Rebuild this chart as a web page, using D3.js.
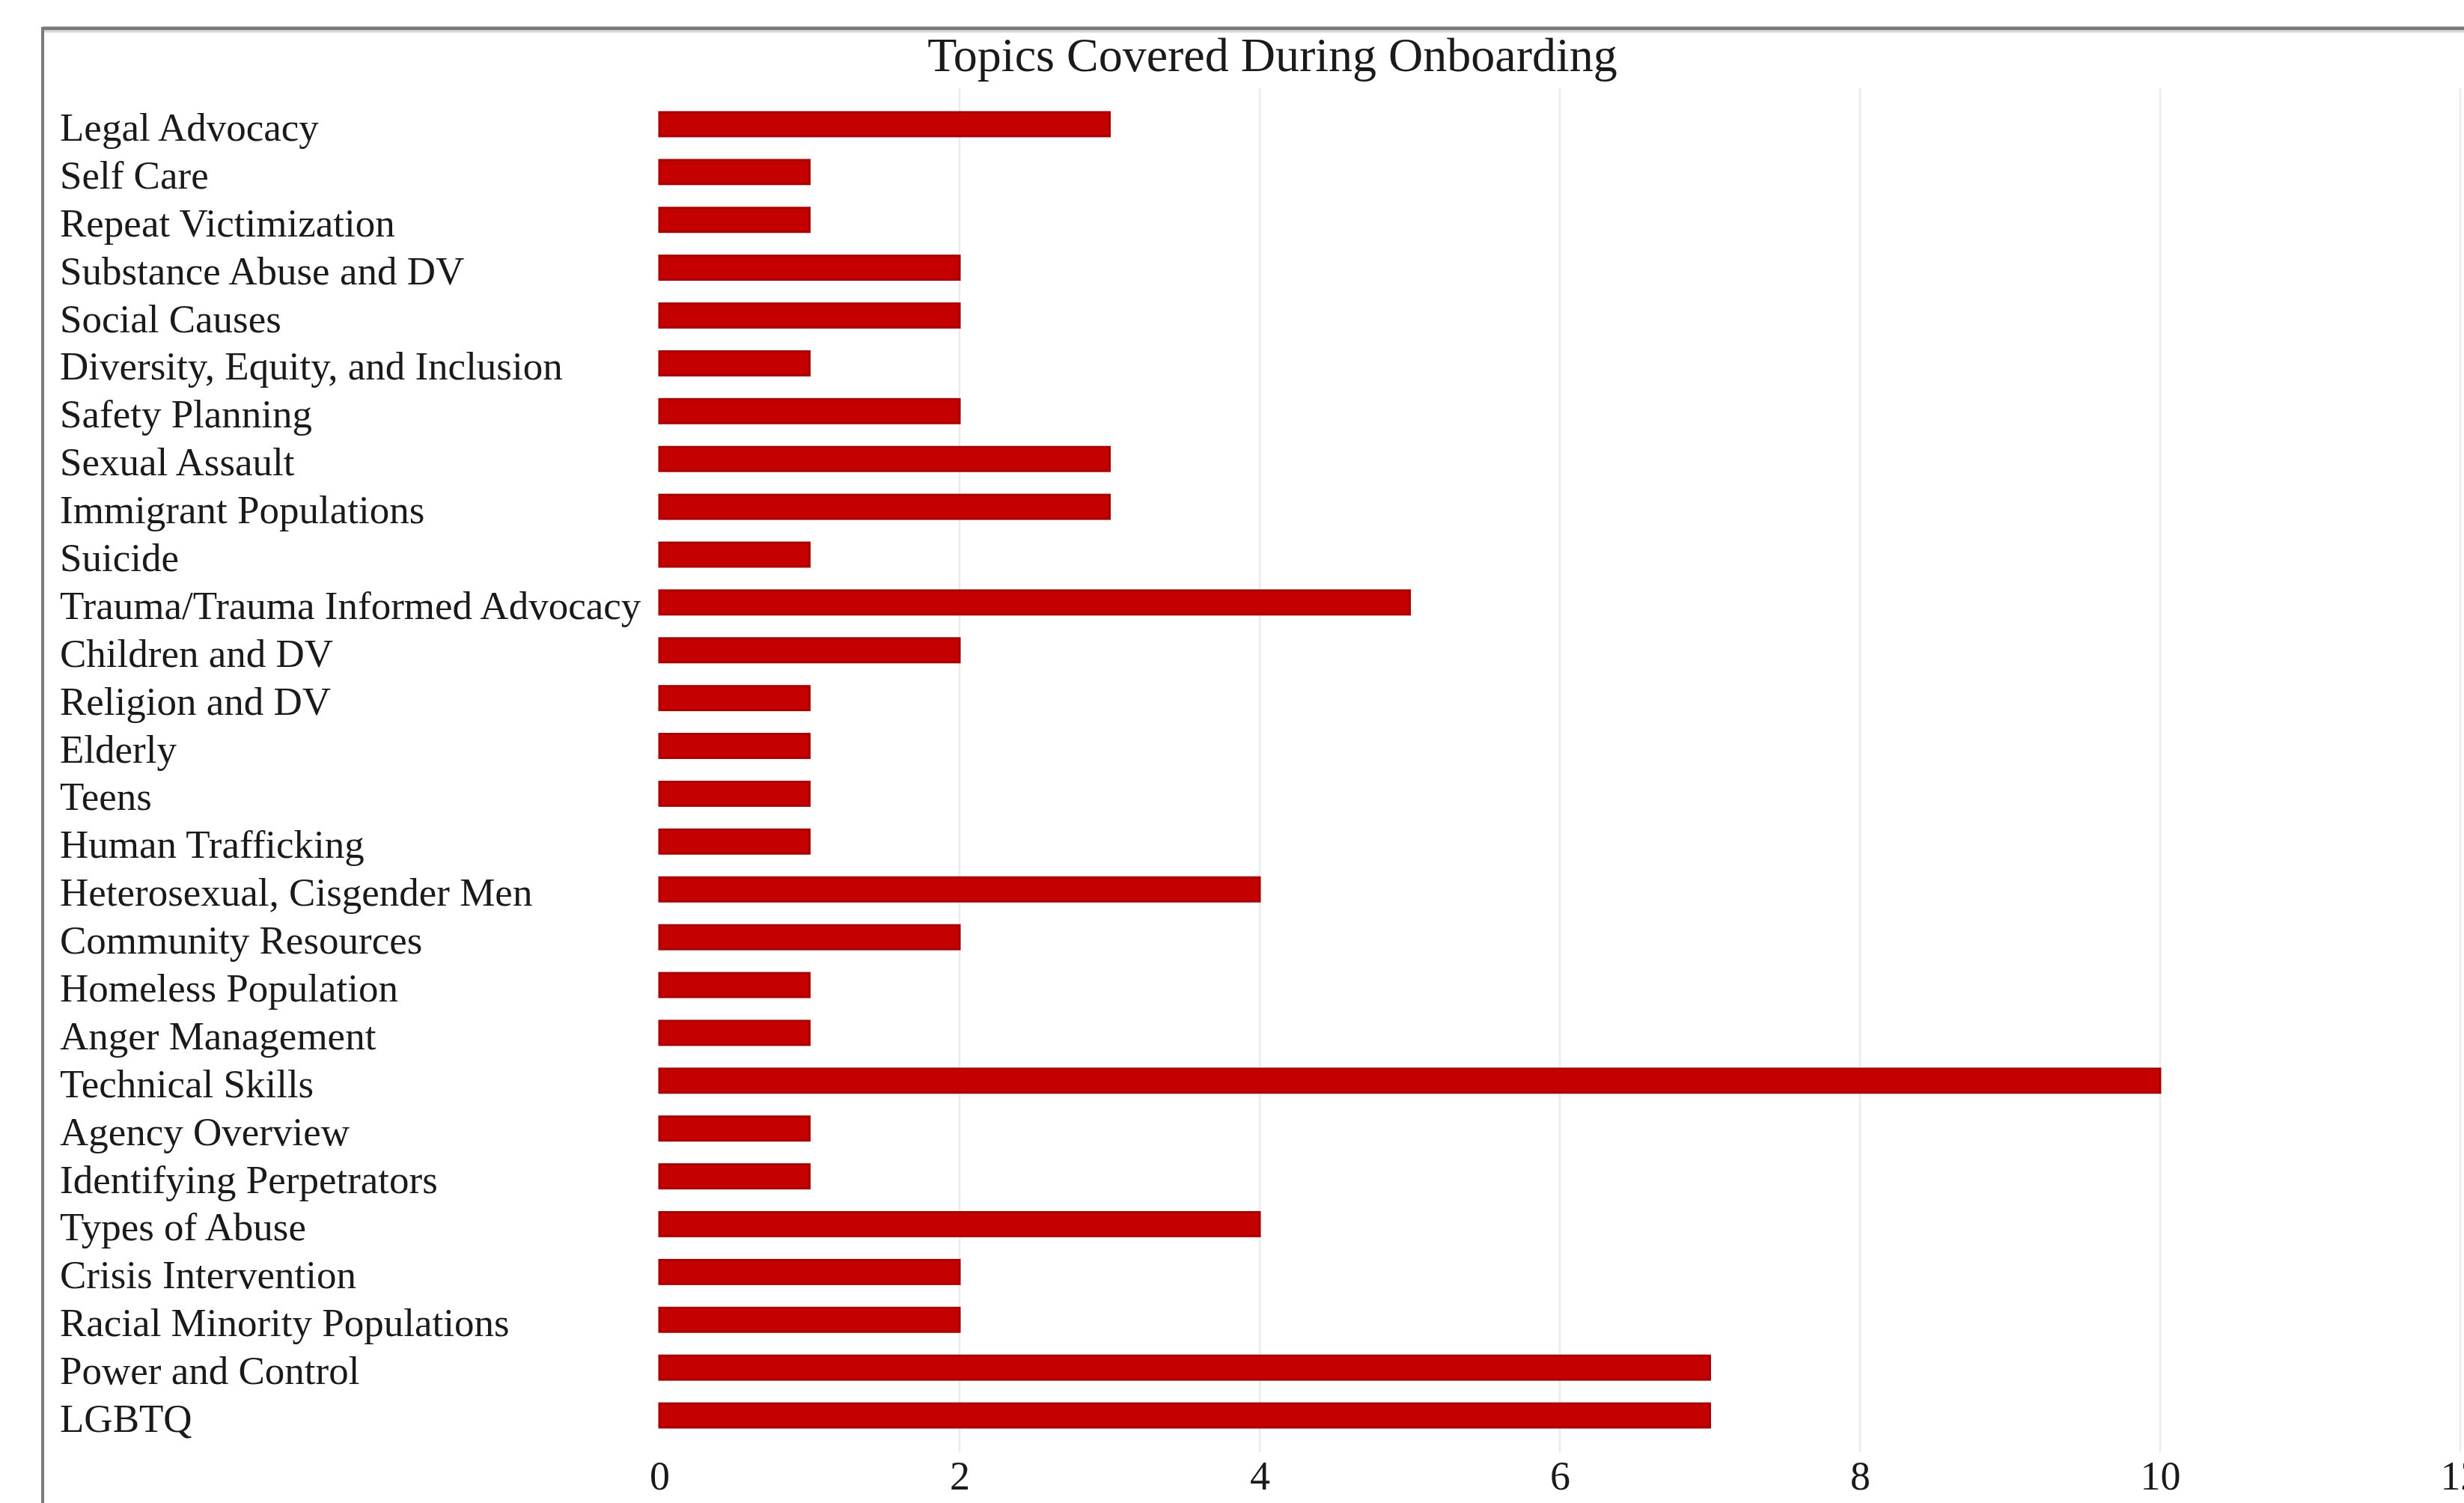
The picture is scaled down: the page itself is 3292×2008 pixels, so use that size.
<!DOCTYPE html>
<html>
<head>
<meta charset="utf-8">
<script src="https://cdn.jsdelivr.net/npm/d3@7"></script>
<style>
  html, body { margin: 0; padding: 0; background: #fff; }
  svg { display: block; }
</style>
</head>
<body>
<svg id="chart"></svg>
<script>
// topics, top to bottom as drawn
const topics = [
  'Legal Advocacy', 'Self Care', 'Repeat Victimization', 'Substance Abuse and DV',
  'Social Causes', 'Diversity, Equity, and Inclusion', 'Safety Planning', 'Sexual Assault',
  'Immigrant Populations', 'Suicide', 'Trauma/Trauma Informed Advocacy', 'Children and DV',
  'Religion and DV', 'Elderly', 'Teens', 'Human Trafficking',
  'Heterosexual, Cisgender Men', 'Community Resources', 'Homeless Population', 'Anger Management',
  'Technical Skills', 'Agency Overview', 'Identifying Perpetrators', 'Types of Abuse',
  'Crisis Intervention', 'Racial Minority Populations', 'Power and Control', 'LGBTQ'
];
const counts = [
  3, 1, 1, 2,
  2, 1, 2, 3,
  3, 1, 5, 2,
  1, 1, 1, 1,
  4, 2, 1, 1,
  10, 1, 1, 4,
  2, 2, 7, 7
];
const xTicks = [0, 2, 4, 6, 8, 10, 12];
const title = 'Topics Covered During Onboarding';

const W = 3292, H = 2008;
const font = '"Liberation Serif", "Times New Roman", serif';

const svg = d3.select('#chart').attr('width', W).attr('height', H);

svg.append('rect').attr('width', W).attr('height', H).attr('fill', '#fff');

const data = topics.map((t, i) => ({topic: t, value: counts[i]}));

const x = d3.scaleLinear().domain([0, 12]).range([881, 3287]);
const y = d3.scaleBand()
    .domain(topics)
    .range([134, 1923])
    .paddingInner(0.5)
    .paddingOuter(0.25);

// gridlines
svg.append('g')
    .attr('class', 'grid')
    .selectAll('line')
    .data(xTicks.filter(d => d > 0))
    .enter()
    .append('line')
    .attr('x1', d => x(d))
    .attr('x2', d => x(d))
    .attr('y1', 118)
    .attr('y2', 1940)
    .attr('stroke', '#ebebeb')
    .attr('stroke-width', 2.5);

// bars
svg.append('g')
    .attr('class', 'bars')
    .selectAll('rect')
    .data(data)
    .enter()
    .append('rect')
    .attr('x', x(0))
    .attr('y', d => y(d.topic))
    .attr('width', d => x(d.value) - x(0))
    .attr('height', y.bandwidth())
    .attr('fill', '#c40000')
    .attr('stroke', '#a80000')
    .attr('stroke-width', 3);

// category labels (left aligned near the frame)
svg.append('g')
    .attr('class', 'labels')
    .selectAll('text')
    .data(data)
    .enter()
    .append('text')
    .attr('x', 80)
    .attr('y', d => y(d.topic) + y.bandwidth() / 2 + 22)
    .attr('font-family', font)
    .attr('font-size', 53)
    .attr('fill', '#1a1a1a')
    .text(d => d.topic);

// x axis labels
const xAxis = d3.axisBottom(x).tickValues(xTicks).tickSize(0).tickPadding(0);
const gx = svg.append('g')
    .attr('transform', 'translate(0,1952)')
    .call(xAxis);
gx.select('.domain').remove();
gx.selectAll('text')
    .attr('font-family', font)
    .attr('font-size', 54)
    .attr('fill', '#1a1a1a')
    .attr('dy', '0.71em');

// title
svg.append('text')
    .attr('x', 1700)
    .attr('y', 95)
    .attr('text-anchor', 'middle')
    .attr('font-family', font)
    .attr('font-size', 64)
    .attr('fill', '#1a1a1a')
    .text(title);

// frame: top and left edges of the chart box
svg.append('line')
    .attr('x1', 57).attr('x2', W)
    .attr('y1', 38).attr('y2', 38)
    .attr('stroke', '#7a7a7a').attr('stroke-width', 5);
svg.append('line')
    .attr('x1', 57).attr('x2', W)
    .attr('y1', 42).attr('y2', 42)
    .attr('stroke', '#d8d8d8').attr('stroke-width', 3);
svg.append('line')
    .attr('x1', 57).attr('x2', 57)
    .attr('y1', 36).attr('y2', H)
    .attr('stroke', '#7a7a7a').attr('stroke-width', 4);
</script>
</body>
</html>
